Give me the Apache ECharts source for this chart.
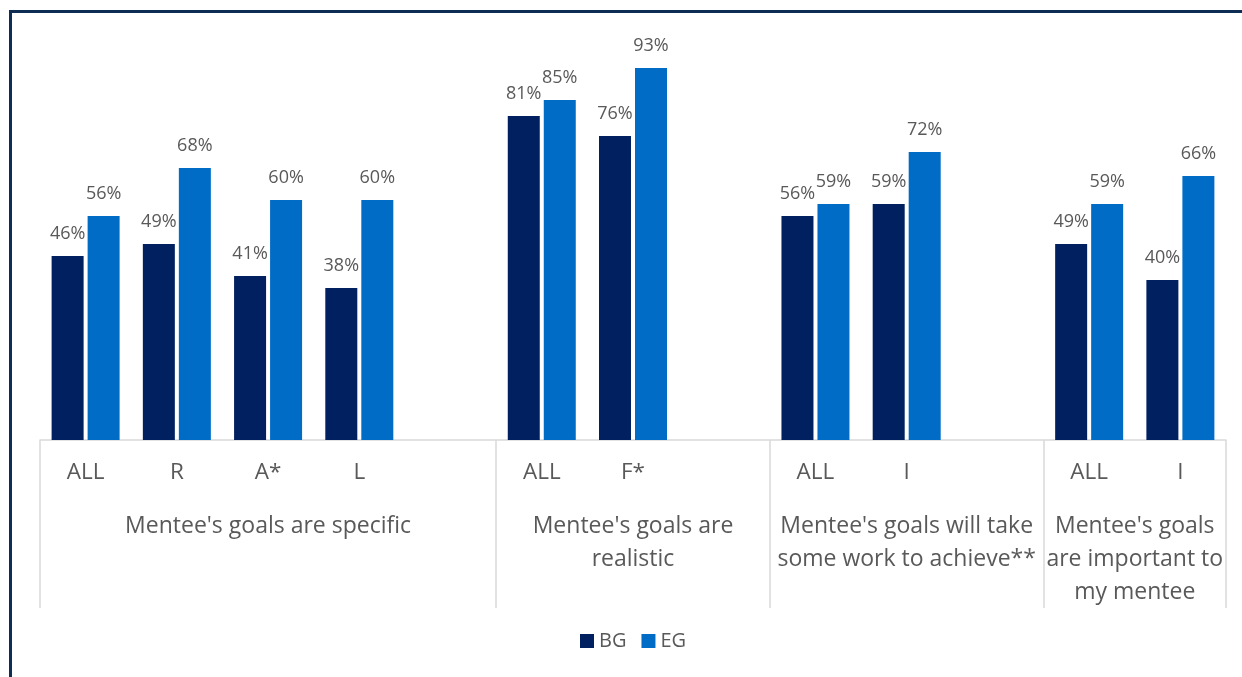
<!DOCTYPE html>
<html>
<head>
<meta charset="utf-8">
<script src="https://cdn.jsdelivr.net/npm/echarts@6/dist/echarts.min.js"></script>
<style>
  html, body { margin: 0; padding: 0; background: #ffffff; }
  #wrap { position: relative; width: 1242px; height: 677px; overflow: hidden; }
  #chart { position: absolute; left: 0; top: 0; width: 1242px; height: 677px; }
  #frame {
    position: absolute; left: 9px; top: 10px; right: -10px; bottom: -10px;
    border-left: 3px solid #0E2D55; border-top: 3px solid #0E2D55;
    pointer-events: none;
  }
</style>
</head>
<body>
<div id="wrap">
  <div id="chart"></div>
  <div id="frame"></div>
</div>
<script>
// Survey groups and their sub-categories
const groupNames = [
  "Mentee's goals are specific",
  "Mentee's goals are\nrealistic",
  "Mentee's goals will take\nsome work to achieve**",
  "Mentee's goals\nare important to\nmy mentee"
];
const groupItems = [
  ['ALL', 'R', 'A*', 'L'],
  ['ALL', 'F*'],
  ['ALL', 'I'],
  ['ALL', 'I']
];
// Percent agreeing, beginning (BG) and end (EG)
const bgValues = [
  [46, 49, 41, 38],
  [81, 76],
  [56, 59],
  [49, 40]
];
const egValues = [
  [56, 68, 60, 60],
  [85, 93],
  [59, 72],
  [59, 66]
];
const seriesNames = ['BG', 'EG'];

// Flatten groups into one category axis, with an empty slot after each group but the last
const categories = [];
const bgFlat = [];
const egFlat = [];
const groupBounds = [0];
const groupCenters = [];
groupItems.forEach(function (items, g) {
  const start = categories.length;
  items.forEach(function (name, i) {
    categories.push(name);
    bgFlat.push(bgValues[g][i]);
    egFlat.push(egValues[g][i]);
  });
  if (g < groupItems.length - 1) {
    categories.push('');
    bgFlat.push(null);
    egFlat.push(null);
  }
  const end = categories.length;
  groupBounds.push(end);
  groupCenters.push((start + end) / 2);
});

const FONT = '"Open Sans", "Noto Sans", sans-serif';
const TEXT = '#595959';
const AXIS = '#D9D9D9';

const chart = echarts.init(document.getElementById('chart'), null, { renderer: 'canvas' });

const labelStyle = {
  show: true,
  position: 'top',
  distance: 13,
  formatter: '{c}%',
  fontFamily: FONT,
  fontSize: 18,
  color: TEXT
};

chart.setOption({
  animation: false,
  backgroundColor: '#ffffff',
  textStyle: { fontFamily: FONT },
  grid: { left: 40, right: 16, top: 40, bottom: 237, containLabel: false },
  legend: {
    data: seriesNames,
    left: 580,
    top: 631,
    padding: 0,
    icon: 'rect',
    itemWidth: 14,
    itemHeight: 14,
    itemGap: 15,
    textStyle: { fontFamily: FONT, fontSize: 20, color: TEXT }
  },
  xAxis: [
    {
      type: 'category',
      data: categories,
      position: 'bottom',
      axisLine: { show: true, lineStyle: { color: AXIS, width: 1.5 } },
      axisTick: { show: false },
      axisLabel: {
        interval: 0,
        margin: 22,
        fontFamily: FONT,
        fontSize: 22.5,
        lineHeight: 22,
        color: TEXT
      },
      splitLine: { show: false }
    },
    {
      type: 'value',
      min: 0,
      max: categories.length,
      position: 'bottom',
      axisLine: { show: false },
      axisTick: {
        show: true,
        customValues: groupBounds,
        length: 168,
        lineStyle: { color: AXIS, width: 1.5 }
      },
      axisLabel: {
        show: true,
        customValues: groupCenters,
        margin: 70,
        fontFamily: FONT,
        fontSize: 23,
        lineHeight: 33,
        color: TEXT,
        align: 'center',
        formatter: function (v) {
          const idx = groupCenters.indexOf(v);
          return idx >= 0 ? groupNames[idx] : '';
        }
      },
      splitLine: { show: false }
    }
  ],
  yAxis: {
    type: 'value',
    min: 0,
    max: 100,
    show: false,
    splitLine: { show: false }
  },
  series: [
    {
      name: seriesNames[0],
      type: 'bar',
      xAxisIndex: 0,
      data: bgFlat,
      barWidth: 32,
      barGap: '12.5%',
      itemStyle: { color: '#002060' },
      label: labelStyle
    },
    {
      name: seriesNames[1],
      type: 'bar',
      xAxisIndex: 0,
      data: egFlat,
      barWidth: 32,
      barGap: '12.5%',
      itemStyle: { color: '#006CC6' },
      label: labelStyle
    }
  ]
});
</script>
</body>
</html>
